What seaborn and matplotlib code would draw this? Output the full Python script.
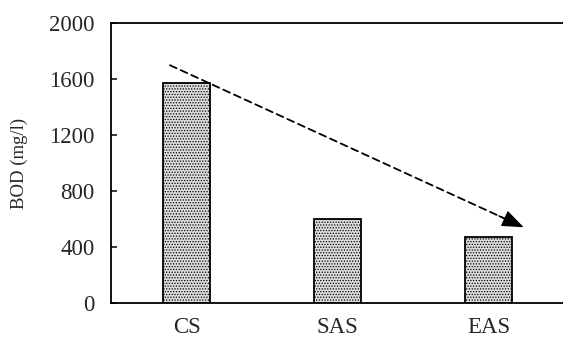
import matplotlib
matplotlib.use("Agg")
import matplotlib.pyplot as plt
import seaborn as sns
import pandas as pd

categories = ["CS", "SAS", "EAS"]
bod_values = [1575, 597, 472]
y_ticks = [0, 400, 800, 1200, 1600, 2000]
trend_start = (-0.11, 1700)
trend_end = (2.23, 540)

sns.set_theme(style="white")
plt.rcParams["font.family"] = ["Liberation Serif", "DejaVu Serif"]
plt.rcParams["hatch.color"] = "#6e6e6e"
plt.rcParams["hatch.linewidth"] = 0.6

df = pd.DataFrame({"cat": categories, "bod": bod_values})

fig = plt.figure(figsize=(5.63, 3.38), dpi=100)
ax = fig.add_axes([111 / 563, (338 - 302.7) / 338, (564.5 - 111) / 563, (302.7 - 23.3) / 338])

sns.barplot(data=df, x="cat", y="bod", color="#dcdcdc", width=0.31,
            edgecolor="black", linewidth=1.3, ax=ax, saturation=1)
for p in ax.patches:
    p.set_hatch("......")
    p.set_edgecolor("black")

ax.set_xlim(-0.5, 2.5)
ax.set_ylim(0, 2000)
ax.set_yticks(y_ticks)
ax.set_yticklabels([str(v) for v in y_ticks], fontsize=16.5)
ax.set_xticks(range(len(categories)))
ax.set_xticklabels(categories, fontsize=16.5)
ax.tick_params(axis="x", which="major", length=0, pad=10)
ax.set_xticks([0.5, 1.5], minor=True)
ax.tick_params(axis="x", which="minor", direction="in", length=4.5, width=1.1, color="black")
ax.tick_params(axis="y", direction="in", length=4.5, width=1.1, color="black", pad=12, left=True)

ax.set_xlabel("")
ax.set_ylabel("BOD (mg/l)", fontsize=13.5, labelpad=15)

for s in ax.spines.values():
    s.set_color("black")
    s.set_linewidth(1.3)

# dashed trend line
ax.annotate("", xy=trend_end, xytext=trend_start,
            arrowprops=dict(arrowstyle="-", linestyle=(0, (4, 2.5)), lw=1.3,
                            color="black", shrinkA=0, shrinkB=6))
# solid filled arrow head
frac = 0.93
head_base = (trend_start[0] + frac * (trend_end[0] - trend_start[0]),
             trend_start[1] + frac * (trend_end[1] - trend_start[1]))
ax.annotate("", xy=trend_end, xytext=head_base,
            arrowprops=dict(arrowstyle="-|>,head_length=0.9,head_width=0.35",
                            lw=1.0, color="black", shrinkA=0, shrinkB=0,
                            mutation_scale=15))

fig.savefig("out.png", dpi=100)
